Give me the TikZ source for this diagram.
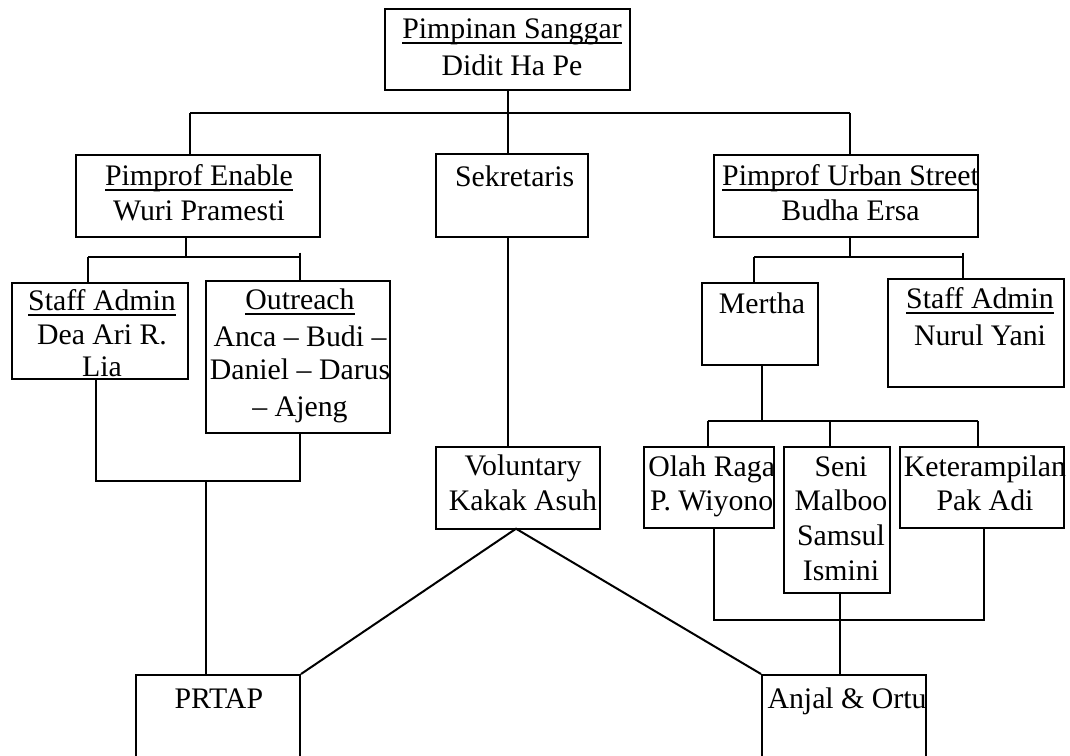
\documentclass[tikz,border=0pt]{standalone}
\usepackage{fontspec}
\setmainfont{Liberation Serif}
\usetikzlibrary{fit}
\newcommand\myul[1]{{\setbox0\hbox{#1}\rlap{\rule[-5.6pt]{\wd0}{1.5pt}}\box0}}
\begin{document}
\begin{tikzpicture}[x=1pt,y=-1pt,line width=2pt,
  box/.style={draw,inner sep=0pt,line width=2pt},
  lbl/.style={inner sep=0pt,anchor=base,align=center,font=\fontsize{29.8}{34.5}\selectfont},
  conn/.style={line width=2pt}]
\useasboundingbox (0,0) rectangle (1070,755);
\clip (0,0) rectangle (1070,755);
% boxes
\node[box,fit={(385,9) (630,90)}] (pim) {};
\node[box,fit={(76,155) (320,236.7)}] (ena) {};
\node[box,fit={(435.7,154.3) (587.7,236.7)}] (sek) {};
\node[box,fit={(714,155) (977.7,236.7)}] (urb) {};
\node[box,fit={(12.3,283.3) (187.7,379.3)}] (sa1) {};
\node[box,fit={(205.7,280.7) (390,432.7)}] (out) {};
\node[box,fit={(701.7,283.3) (818.3,365)}] (mer) {};
\node[box,fit={(887.7,279) (1064,386.7)}] (sa2) {};
\node[box,fit={(435.7,447) (600,528.7)}] (vol) {};
\node[box,fit={(644,447) (774,528.3)}] (ola) {};
\node[box,fit={(784,447) (890,592.7)}] (sen) {};
\node[box,fit={(900,447) (1064,528.3)}] (ket) {};
\node[box,fit={(135.7,675) (300,760)}] (prt) {};
\node[box,fit={(762,675) (926,760)}] (anj) {};
% texts (anchor base = baseline of the last line)
\node[lbl] (tpim) at (512,75) {\myul{Pimpinan Sanggar}\\[2.2pt]Didit Ha Pe};
\node[lbl] (tena) at (199,220) {\myul{Pimprof Enable}\\[0.5pt]Wuri Pramesti};
\node[lbl] (tsek) at (514.7,186.7) {Sekretaris};
\node[lbl] (turb) at (850.5,220) {\myul{Pimprof Urban Street}\\[0.5pt]Budha Ersa};
\node[lbl] (tsa1) at (102,376) {\myul{Staff Admin}\\[-0.5pt]Dea Ari R.\\[-2.5pt]Lia};
\node[lbl] (tout) at (300,416.7) {\myul{Outreach}\\[2.2pt]Anca -- Budi --\\[-1.2pt]Daniel -- Darus\\[2.9pt]-- Ajeng};
\node[lbl] (tmer) at (762,313.3) {Mertha};
\node[lbl] (tsa2) at (980,345) {\myul{Staff Admin}\\[2.2pt]Nurul Yani};
\node[lbl] (tvol) at (523,510) {Voluntary\\Kakak Asuh};
\node[lbl] (tola) at (711.7,510) {Olah Raga\\[-1.2pt]P. Wiyono};
\node[lbl] (tsen) at (841,580) {Seni\\[-1.2pt]Malboo\\[0.5pt]Samsul\\[0.5pt]Ismini};
\node[lbl] (tket) at (985,510) {Keterampilan\\[-1.2pt]Pak Adi};
\node[lbl] (tprt) at (218.8,708.3) {PRTAP};
\node[lbl] (tanj) at (847,708.3) {Anjal \& Ortu};
% junction coordinates
\coordinate (j1) at (190,113);
\coordinate (j2) at (850,113);
\coordinate (j3) at (185.7,256.7);
\coordinate (j4) at (88,256.7);
\coordinate (j5) at (300,256.7);
\coordinate (j5t) at (300,252.5);
\coordinate (j6) at (96,480.7);
\coordinate (j7) at (300,480.7);
\coordinate (j8) at (205.7,480.7);
\coordinate (k1) at (850,256.7);
\coordinate (k2) at (754,256.7);
\coordinate (k3) at (963,256.7);
\coordinate (k3t) at (963,252.5);
\coordinate (k4) at (762,421);
\coordinate (k5) at (707.7,421);
\coordinate (k6) at (977.7,421);
\coordinate (k7) at (830,421);
\coordinate (m1) at (714,620.3);
\coordinate (m2) at (984,620.3);
\coordinate (m3) at (840,620.3);
% connectors
\draw[conn] (pim.south -| 507.7,0) -- (sek.north -| 507.7,0);
\draw[conn] (j1) -- (j2);
\draw[conn] (j1) -- (j1 |- ena.north);
\draw[conn] (j2) -- (j2 |- urb.north);
\draw[conn] (ena.south -| j3) -- (j3);
\draw[conn] (j4) -- (j5);
\draw[conn] (j4) -- (j4 |- sa1.north);
\draw[conn] (j5t) -- (j5t |- out.north);
\draw[conn] (j6 |- sa1.south) -- (j6) -- (j7) -- (j7 |- out.south);
\draw[conn] (j8) -- (j8 |- prt.north);
\draw[conn] (sek.south -| 508.3,0) -- (vol.north -| 508.3,0);
\draw[conn] (prt.north east) -- (516,528.7) -- (anj.north west);
\draw[conn] (urb.south -| k1) -- (k1);
\draw[conn] (k2) -- (k3);
\draw[conn] (k2) -- (k2 |- mer.north);
\draw[conn] (k3t) -- (k3t |- sa2.north);
\draw[conn] (mer.south -| k4) -- (k4);
\draw[conn] (k5) -- (k6);
\draw[conn] (k5) -- (k5 |- ola.north);
\draw[conn] (k7) -- (k7 |- sen.north);
\draw[conn] (k6) -- (k6 |- ket.north);
\draw[conn] (m1 |- ola.south) -- (m1) -- (m2) -- (m2 |- ket.south);
\draw[conn] (m3 |- sen.south) -- (m3 |- anj.north);
\end{tikzpicture}
\end{document}
